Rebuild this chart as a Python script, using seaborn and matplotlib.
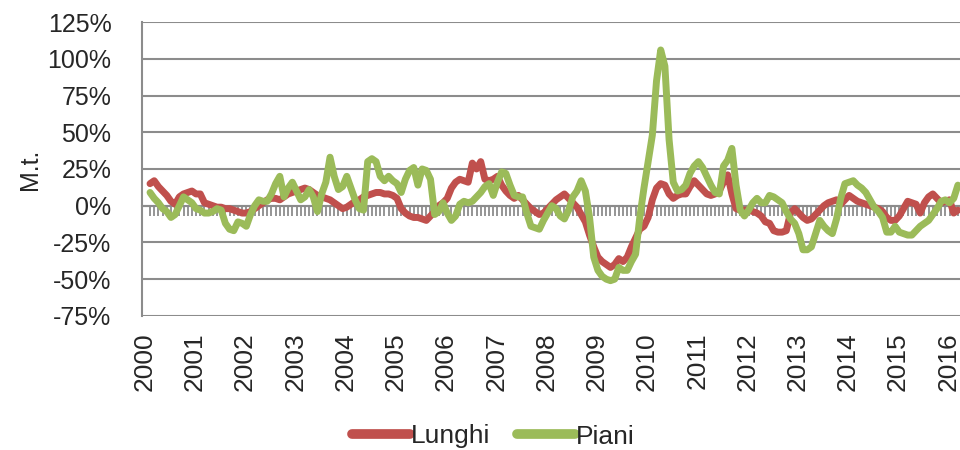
import numpy as np
import pandas as pd
import matplotlib
matplotlib.use("Agg")
import matplotlib.pyplot as plt
import seaborn as sns

# monthly % change, Jan 2000 .. Feb 2016
lunghi = [
    15, 17, 13, 10, 7, 3, 1, 6, 8, 9, 10, 8,
    8, 2, 1, 0, -1, -1, -2, -2, -3, -4, -5, -5,
    -4, -2, 0, 2, 4, 5, 5, 4, 6, 8, 9, 10,
    11, 12, 11, 9, 7, 6, 5, 4, 2, 0, -2, -1,
    1, 3, 4, 6, 7, 8, 9, 9, 8, 8, 7, 5,
    -2, -5, -7, -8, -8, -9, -10, -7, -4, 0, 2, 5,
    12, 16, 18, 17, 16, 29, 25, 30, 18, 17, 18, 20,
    14, 10, 7, 5, 7, 4, 1, -2, -4, -6, -5, -2,
    1, 4, 6, 8, 5, 2, -1, -6, -11, -20, -28, -35,
    -38, -40, -42, -40, -36, -38, -35, -28, -22, -16, -14, -8,
    4, 12, 15, 14, 8, 5, 7, 8, 8, 13, 17, 14,
    11, 8, 7, 8, 10, 16, 21, 8, -2, -3, -3, -3,
    -4, -5, -7, -11, -12, -17, -18, -18, -17, -5, -2, -5,
    -8, -10, -9, -6, -3, 0, 2, 3, 4, 1, 4, 7,
    5, 3, 2, 1, 0, -1, -2, -4, -8, -10, -10, -7,
    -2, 3, 2, 1, -5, 2, 6, 8, 5, 2, 3, 4,
    -5, -3,
]
piani = [
    9, 5, 2, -2, -4, -8, -6, 0, 6, 4, 2, -2,
    -3, -5, -5, -4, -2, -3, -12, -16, -17, -11, -12, -14,
    -6, 0, 4, 3, 3, 8, 15, 20, 6, 12, 16, 10,
    4, 6, 11, 6, -4, 8, 16, 33, 20, 11, 13, 20,
    12, 4, -2, -3, 30, 32, 30, 20, 17, 20, 17, 15,
    9, 18, 24, 26, 14, 25, 24, 18, -6, -4, 2, -5,
    -10, -7, 1, 3, 2, 3, 6, 9, 13, 15, 7, 16,
    23, 22, 14, 7, 6, 6, -5, -14, -15, -16, -10, -5,
    0, -2, -7, -9, -3, 6, 10, 17, 10, -8, -35, -44,
    -48, -50, -51, -50, -42, -44, -44, -38, -33, -8, 12, 30,
    48, 85, 106, 95, 45, 16, 10, 11, 14, 22, 27, 30,
    26, 20, 14, 9, 8, 27, 31, 39, 14, -3, -7, -3,
    2, 5, 2, 2, 7, 6, 4, 2, -4, -9, -12, -19,
    -30, -30, -28, -19, -10, -14, -17, -19, -9, 5, 15, 16,
    17, 14, 12, 9, 4, -1, -4, -8, -18, -18, -14, -18,
    -19, -20, -20, -17, -14, -12, -10, -6, -2, 3, 4, 2,
    5, 14,
]
years = list(range(2000, 2017))
y_ticks = [-75, -50, -25, 0, 25, 50, 75, 100, 125]

n = len(lunghi)
df = pd.DataFrame({
    "mese": list(range(n)) * 2,
    "valore": lunghi + piani,
    "serie": ["Lunghi"] * n + ["Piani"] * n,
})

sns.set_style("white")
plt.rcParams["font.family"] = ["Liberation Sans", "DejaVu Sans"]

fig, ax = plt.subplots(figsize=(9.6, 4.5), dpi=100)
fig.subplots_adjust(left=0.148, right=1.0, top=0.951, bottom=0.298)

sns.lineplot(data=df, x="mese", y="valore", hue="serie",
             palette={"Lunghi": "#C0504D", "Piani": "#9BBB59"},
             linewidth=5, legend=False, ax=ax,
             solid_joinstyle="round", solid_capstyle="round")

ax.set_xlim(-1.9, 193.5)
ax.set_ylim(-75, 125)
ax.set_yticks(y_ticks)
ax.set_yticklabels([f"{v}%" for v in y_ticks], fontsize=18)
# year labels sit just left of each January point, as in the source
ax.set_xticks([12 * i - 1.3 for i in range(len(years))])
ax.set_xticklabels([str(y) for y in years], rotation=90, fontsize=19)
ax.tick_params(axis="both", length=0)
ax.tick_params(axis="x", pad=12)
ax.tick_params(axis="y", pad=22)
ax.set_xlabel("")
ax.set_ylabel("M.t.", fontsize=18, labelpad=4)

ax.yaxis.grid(True, color="#8C8C8C", linewidth=1.5)
ax.xaxis.grid(False)
for side in ["top", "right", "bottom"]:
    ax.spines[side].set_visible(False)
ax.spines["left"].set_color("#8C8C8C")
ax.spines["left"].set_linewidth(1.5)
ax.set_axisbelow(True)

# zero axis with monthly tick marks
sec = ax.secondary_xaxis(75 / 200)
sec.set_xticks(range(n))
sec.set_xticklabels([])
sec.tick_params(axis="x", direction="out", length=7, width=1.3, color="#8C8C8C")
sec.spines["bottom"].set_color("#8C8C8C")
sec.spines["bottom"].set_linewidth(1.5)

handles = [plt.Line2D([], [], color="#C0504D", linewidth=7, solid_capstyle="round"),
           plt.Line2D([], [], color="#9BBB59", linewidth=7, solid_capstyle="round")]
fig.legend(handles, ["Lunghi", "Piani"], loc="center", bbox_to_anchor=(0.514, 0.03),
           ncol=2, frameon=False, fontsize=19, handlelength=2.2,
           handletextpad=0.05, columnspacing=1.0)

plt.savefig("out.png", dpi=100)
plt.close(fig)
